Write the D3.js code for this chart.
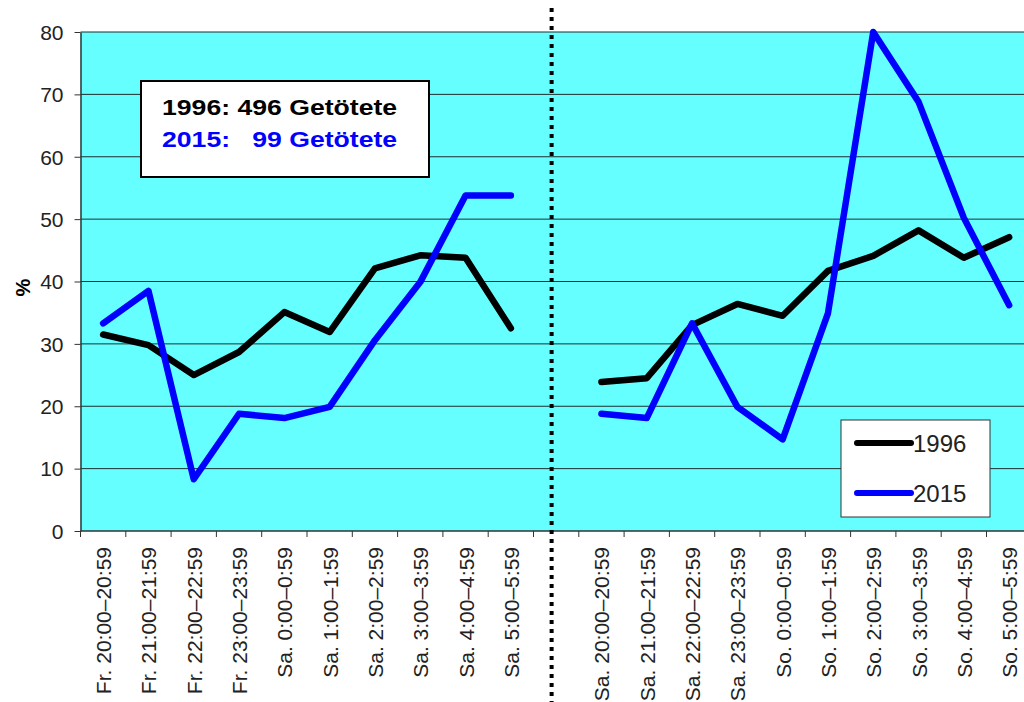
<!DOCTYPE html>
<html><head><meta charset="utf-8">
<script src="https://cdn.jsdelivr.net/npm/d3@7"></script>
<style>body{margin:0;background:#fff}svg{display:block}text{font-family:"Liberation Sans",Arial,sans-serif}</style>
</head><body><svg id="c" width="1024" height="702"></svg>
<script>
const categories = ["Fr. 20:00–20:59","Fr. 21:00–21:59","Fr. 22:00–22:59","Fr. 23:00–23:59","Sa. 0:00–0:59","Sa. 1:00–1:59","Sa. 2:00–2:59","Sa. 3:00–3:59","Sa. 4:00–4:59","Sa. 5:00–5:59","",
"Sa. 20:00–20:59","Sa. 21:00–21:59","Sa. 22:00–22:59","Sa. 23:00–23:59","So. 0:00–0:59","So. 1:00–1:59","So. 2:00–2:59","So. 3:00–3:59","So. 4:00–4:59","So. 5:00–5:59"];
const s1996 = [31.5,29.8,25.0,28.7,35.1,31.9,42.1,44.2,43.8,32.5,null,23.9,24.5,33.0,36.4,34.5,41.7,44.1,48.2,43.8,47.1];
const s2015 = [33.3,38.5,8.3,18.8,18.1,19.9,30.6,39.9,53.8,53.8,null,18.8,18.1,33.3,19.9,14.7,34.9,80.0,68.8,50.2,36.2];
const yTicks = [0,10,20,30,40,50,60,70,80];
const seriesNames = ["1996","2015"];
const seriesColors = ["#000000","#0000ff"];
const noteLines = ["1996: 496 Getötete","2015:   99 Getötete"];

const svg = d3.select("#c");
const L=80.5, T=32, B=531, band=45.3;
const x = d3.scaleBand().domain(d3.range(categories.length)).range([L, L+band*categories.length]).paddingInner(0).paddingOuter(0);
const y = d3.scaleLinear().domain([0,80]).range([B,T]);
const W = x.range()[1]-L;

svg.append("rect").attr("x",L).attr("y",T).attr("width",W).attr("height",B-T).attr("fill","#66ffff");
// grid
svg.append("g").selectAll("line").data(yTicks.slice(1)).join("line")
  .attr("x1",L).attr("x2",L+W).attr("y1",d=>y(d)).attr("y2",d=>y(d)).attr("stroke","#1f2f2f").attr("stroke-width",1);

// y axis
const ya = svg.append("g").attr("transform",`translate(${L},0)`).call(d3.axisLeft(y).tickValues(yTicks).tickSize(6).tickSizeOuter(0));
ya.attr("font-size",null).attr("font-family",null);
ya.select(".domain").attr("stroke","#333").attr("stroke-width",1.5);
ya.selectAll(".tick line").attr("stroke","#333");
ya.selectAll("text").style("font-size","21px").style("font-family","'Liberation Sans',Arial,sans-serif")
  .attr("fill","#222").attr("x",-17).attr("dy","0.35em");

// x axis
const xa = svg.append("g").attr("transform",`translate(0,${B})`);
xa.append("line").attr("x1",L).attr("x2",L+W).attr("y1",0).attr("y2",0).attr("stroke","#333").attr("stroke-width",1.5);
xa.selectAll("line.t").data(d3.range(categories.length+1)).join("line").attr("class","t")
  .attr("x1",d=>L+d*x.bandwidth()).attr("x2",d=>L+d*x.bandwidth()).attr("y1",0).attr("y2",6).attr("stroke","#333");
xa.selectAll("text").data(categories).join("text")
  .attr("transform",(d,i)=>`translate(${x(i)+x.bandwidth()/2+8},16) rotate(-90)`)
  .attr("text-anchor","end").style("font-size","21px").attr("fill","#222").text(d=>d);

svg.append("text").attr("transform",`translate(30,${y(40)+6}) rotate(-90)`).attr("text-anchor","middle")
  .style("font-size","20px").attr("font-weight","bold").text("%");

// lines
const line = d3.line().defined(d=>d!=null).x((d,i)=>x(i)+x.bandwidth()/2).y(d=>y(d));
[s1996,s2015].forEach((s,k)=>{
  svg.append("path").datum(s).attr("d",line).attr("fill","none").attr("stroke",seriesColors[k])
    .attr("stroke-width",6.5).attr("stroke-linejoin","round").attr("stroke-linecap","round");
});

// divider
const dx = x(10)+x.bandwidth()*0.4;
svg.append("line").attr("x1",dx).attr("x2",dx).attr("y1",8).attr("y2",702)
  .attr("stroke","#000").attr("stroke-width",4).attr("stroke-dasharray","4,5");

// note box
svg.append("rect").attr("x",141).attr("y",81).attr("width",288).attr("height",96).attr("fill","#fff").attr("stroke","#000").attr("stroke-width",2);
svg.selectAll("text.note").data(noteLines).join("text").attr("class","note")
  .attr("transform",(d,i)=>`translate(162,${115+i*31.7}) scale(1.21,1)`)
  .style("font-size","22px").attr("font-weight","bold")
  .attr("fill",(d,i)=>seriesColors[i]).style("white-space","pre").text(d=>d);

// legend
svg.append("rect").attr("x",841).attr("y",420).attr("width",149).attr("height",97).attr("fill","#fff").attr("stroke","#333").attr("stroke-width",1);
seriesNames.forEach((n,i)=>{
  const ly = 443+i*50;
  svg.append("line").attr("x1",857).attr("x2",911).attr("y1",ly).attr("y2",ly).attr("stroke",seriesColors[i]).attr("stroke-width",6).attr("stroke-linecap","round");
  svg.append("text").attr("x",913).attr("y",ly+9).style("font-size","24px").attr("fill","#222").text(n);
});
</script></body></html>
